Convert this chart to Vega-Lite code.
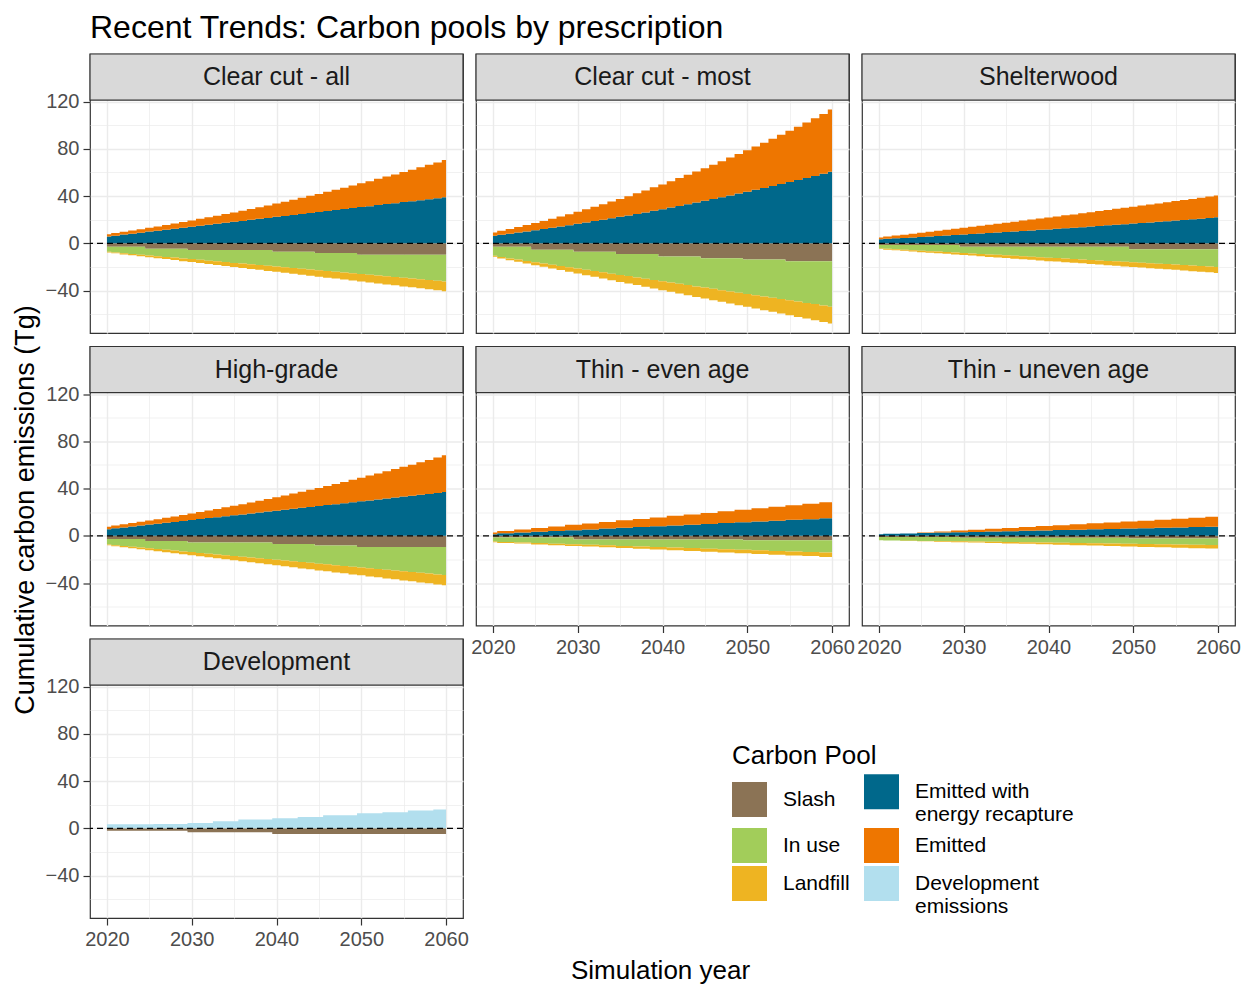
{
  "$schema": "https://vega.github.io/schema/vega-lite/v6.json",
  "padding": {"left": 10, "top": 11, "right": 4, "bottom": 2},
  "background": "white",
  "config": {
    "font": "Liberation Sans",
    "view": {"stroke": "#333333", "strokeWidth": 1.2},
    "axis": {
      "labelFont": "Liberation Sans",
      "labelFontSize": 20,
      "labelColor": "#4D4D4D",
      "tickColor": "#333333",
      "tickWidth": 1.2,
      "domain": false,
      "title": null,
      "gridColor": "#EBEBEB",
      "titleFont": "Liberation Sans"
    },
    "legend": {"titleFont": "Liberation Sans", "labelFont": "Liberation Sans"}
  },
  "title": {
    "text": "Recent Trends: Carbon pools by prescription",
    "anchor": "start",
    "frame": "group",
    "fontSize": 32,
    "fontWeight": "normal",
    "color": "black",
    "offset": 8
  },
  "data": {"name": "rows"},
  "datasets": {
    "panels": [
      {"k": "a", "p": "Clear cut - all"},
      {"k": "b", "p": "Clear cut - most"},
      {"k": "c", "p": "Shelterwood"},
      {"k": "d", "p": "High-grade"},
      {"k": "e", "p": "Thin - even age"},
      {"k": "f", "p": "Thin - uneven age"},
      {"k": "g", "p": "Development"}
    ],
    "pools": [
      {"c": "s", "pool": "Slash", "o": 1},
      {"c": "u", "pool": "In use", "o": 2},
      {"c": "l", "pool": "Landfill", "o": 3},
      {"c": "r", "pool": "Emitted with energy recapture", "o": 1},
      {"c": "e", "pool": "Emitted", "o": 2},
      {"c": "d", "pool": "Development emissions", "o": 3}
    ],
    "rows": [
      {"k":"a","t":2020,"s":-2.9,"u":-4.2,"l":-0.6,"r":5.7,"e":2.0},
      {"k":"a","t":2021,"s":-2.9,"u":-4.8,"l":-0.8,"r":6.5,"e":2.2},
      {"k":"a","t":2022,"s":-2.9,"u":-5.5,"l":-1.0,"r":7.4,"e":2.4},
      {"k":"a","t":2023,"s":-2.9,"u":-6.1,"l":-1.2,"r":8.2,"e":2.7},
      {"k":"a","t":2024,"s":-2.9,"u":-6.7,"l":-1.4,"r":9.0,"e":3.0},
      {"k":"a","t":2025,"s":-4.6,"u":-5.7,"l":-1.6,"r":9.9,"e":3.3},
      {"k":"a","t":2026,"s":-4.6,"u":-6.3,"l":-1.8,"r":10.7,"e":3.6},
      {"k":"a","t":2027,"s":-4.6,"u":-6.9,"l":-1.9,"r":11.5,"e":4.0},
      {"k":"a","t":2028,"s":-4.6,"u":-7.5,"l":-2.1,"r":12.4,"e":4.4},
      {"k":"a","t":2029,"s":-4.6,"u":-8.2,"l":-2.3,"r":13.2,"e":4.8},
      {"k":"a","t":2030,"s":-5.7,"u":-7.7,"l":-2.5,"r":14.0,"e":5.3},
      {"k":"a","t":2031,"s":-5.7,"u":-8.3,"l":-2.7,"r":14.9,"e":5.8},
      {"k":"a","t":2032,"s":-5.7,"u":-9.0,"l":-2.9,"r":15.7,"e":6.3},
      {"k":"a","t":2033,"s":-5.7,"u":-9.6,"l":-3.1,"r":16.5,"e":6.8},
      {"k":"a","t":2034,"s":-5.7,"u":-10.2,"l":-3.3,"r":17.4,"e":7.4},
      {"k":"a","t":2035,"s":-5.7,"u":-10.9,"l":-3.5,"r":18.2,"e":8.0},
      {"k":"a","t":2036,"s":-5.7,"u":-11.5,"l":-3.7,"r":19.0,"e":8.6},
      {"k":"a","t":2037,"s":-5.7,"u":-12.1,"l":-3.9,"r":19.9,"e":9.2},
      {"k":"a","t":2038,"s":-5.7,"u":-12.7,"l":-4.1,"r":20.7,"e":9.9},
      {"k":"a","t":2039,"s":-5.7,"u":-13.4,"l":-4.3,"r":21.5,"e":10.6},
      {"k":"a","t":2040,"s":-7.1,"u":-12.6,"l":-4.5,"r":22.4,"e":11.3},
      {"k":"a","t":2041,"s":-7.1,"u":-13.2,"l":-4.6,"r":23.2,"e":12.0},
      {"k":"a","t":2042,"s":-7.1,"u":-13.9,"l":-4.8,"r":24.0,"e":12.8},
      {"k":"a","t":2043,"s":-7.1,"u":-14.5,"l":-5.0,"r":24.9,"e":13.6},
      {"k":"a","t":2044,"s":-7.1,"u":-15.1,"l":-5.2,"r":25.7,"e":14.5},
      {"k":"a","t":2045,"s":-8.3,"u":-14.6,"l":-5.4,"r":26.5,"e":15.3},
      {"k":"a","t":2046,"s":-8.3,"u":-15.2,"l":-5.6,"r":27.4,"e":16.2},
      {"k":"a","t":2047,"s":-8.3,"u":-15.8,"l":-5.8,"r":28.2,"e":17.1},
      {"k":"a","t":2048,"s":-8.3,"u":-16.4,"l":-6.0,"r":29.0,"e":18.1},
      {"k":"a","t":2049,"s":-8.3,"u":-17.1,"l":-6.2,"r":29.9,"e":19.1},
      {"k":"a","t":2050,"s":-9.7,"u":-16.3,"l":-6.4,"r":30.7,"e":20.1},
      {"k":"a","t":2051,"s":-9.7,"u":-16.9,"l":-6.6,"r":31.5,"e":21.1},
      {"k":"a","t":2052,"s":-9.7,"u":-17.6,"l":-6.8,"r":32.4,"e":22.2},
      {"k":"a","t":2053,"s":-9.7,"u":-18.2,"l":-7.0,"r":33.2,"e":23.3},
      {"k":"a","t":2054,"s":-9.7,"u":-18.8,"l":-7.1,"r":34.0,"e":24.4},
      {"k":"a","t":2055,"s":-9.7,"u":-19.5,"l":-7.3,"r":34.9,"e":25.5},
      {"k":"a","t":2056,"s":-9.7,"u":-20.1,"l":-7.5,"r":35.7,"e":26.7},
      {"k":"a","t":2057,"s":-9.7,"u":-20.7,"l":-7.7,"r":36.5,"e":27.9},
      {"k":"a","t":2058,"s":-9.7,"u":-21.3,"l":-7.9,"r":37.4,"e":29.1},
      {"k":"a","t":2059,"s":-9.7,"u":-22.0,"l":-8.1,"r":38.2,"e":30.3},
      {"k":"a","t":2060,"s":-9.7,"u":-22.6,"l":-8.3,"r":39.0,"e":31.6},
      {"k":"b","t":2020,"s":-2.9,"u":-7.7,"l":-0.8,"r":6.3,"e":2.8},
      {"k":"b","t":2021,"s":-2.9,"u":-8.8,"l":-1.1,"r":7.2,"e":3.4},
      {"k":"b","t":2022,"s":-2.9,"u":-9.9,"l":-1.5,"r":8.1,"e":4.0},
      {"k":"b","t":2023,"s":-2.9,"u":-10.9,"l":-1.8,"r":9.1,"e":4.7},
      {"k":"b","t":2024,"s":-2.9,"u":-12.0,"l":-2.2,"r":10.1,"e":5.4},
      {"k":"b","t":2025,"s":-5.5,"u":-10.5,"l":-2.5,"r":11.1,"e":6.1},
      {"k":"b","t":2026,"s":-5.5,"u":-11.6,"l":-2.8,"r":12.1,"e":6.9},
      {"k":"b","t":2027,"s":-5.5,"u":-12.6,"l":-3.2,"r":13.2,"e":7.7},
      {"k":"b","t":2028,"s":-5.5,"u":-13.7,"l":-3.5,"r":14.2,"e":8.5},
      {"k":"b","t":2029,"s":-5.5,"u":-14.8,"l":-3.8,"r":15.3,"e":9.4},
      {"k":"b","t":2030,"s":-7.2,"u":-14.2,"l":-4.2,"r":16.5,"e":10.3},
      {"k":"b","t":2031,"s":-7.2,"u":-15.3,"l":-4.5,"r":17.6,"e":11.2},
      {"k":"b","t":2032,"s":-7.2,"u":-16.3,"l":-4.9,"r":18.8,"e":12.2},
      {"k":"b","t":2033,"s":-7.2,"u":-17.4,"l":-5.2,"r":19.9,"e":13.1},
      {"k":"b","t":2034,"s":-7.2,"u":-18.5,"l":-5.5,"r":21.2,"e":14.2},
      {"k":"b","t":2035,"s":-9.0,"u":-17.8,"l":-5.9,"r":22.4,"e":15.2},
      {"k":"b","t":2036,"s":-9.0,"u":-18.8,"l":-6.2,"r":23.6,"e":16.3},
      {"k":"b","t":2037,"s":-9.0,"u":-19.9,"l":-6.5,"r":24.9,"e":17.5},
      {"k":"b","t":2038,"s":-9.0,"u":-21.0,"l":-6.9,"r":26.2,"e":18.6},
      {"k":"b","t":2039,"s":-9.0,"u":-22.1,"l":-7.2,"r":27.6,"e":19.8},
      {"k":"b","t":2040,"s":-11.2,"u":-21.0,"l":-7.6,"r":28.9,"e":21.0},
      {"k":"b","t":2041,"s":-11.2,"u":-22.0,"l":-7.9,"r":30.3,"e":22.3},
      {"k":"b","t":2042,"s":-11.2,"u":-23.1,"l":-8.2,"r":31.7,"e":23.6},
      {"k":"b","t":2043,"s":-11.2,"u":-24.2,"l":-8.6,"r":33.1,"e":24.9},
      {"k":"b","t":2044,"s":-11.2,"u":-25.3,"l":-8.9,"r":34.5,"e":26.3},
      {"k":"b","t":2045,"s":-12.7,"u":-24.8,"l":-9.2,"r":36.0,"e":27.7},
      {"k":"b","t":2046,"s":-12.7,"u":-25.9,"l":-9.6,"r":37.5,"e":29.1},
      {"k":"b","t":2047,"s":-12.7,"u":-27.0,"l":-9.9,"r":39.0,"e":30.6},
      {"k":"b","t":2048,"s":-12.7,"u":-28.1,"l":-10.3,"r":40.5,"e":32.1},
      {"k":"b","t":2049,"s":-12.7,"u":-29.1,"l":-10.6,"r":42.1,"e":33.6},
      {"k":"b","t":2050,"s":-13.8,"u":-29.1,"l":-10.9,"r":43.7,"e":35.1},
      {"k":"b","t":2051,"s":-13.8,"u":-30.2,"l":-11.3,"r":45.3,"e":36.7},
      {"k":"b","t":2052,"s":-13.8,"u":-31.3,"l":-11.6,"r":46.9,"e":38.4},
      {"k":"b","t":2053,"s":-13.8,"u":-32.4,"l":-11.9,"r":48.5,"e":40.0},
      {"k":"b","t":2054,"s":-13.8,"u":-33.4,"l":-12.3,"r":50.2,"e":41.7},
      {"k":"b","t":2055,"s":-15.2,"u":-33.1,"l":-12.6,"r":51.9,"e":43.4},
      {"k":"b","t":2056,"s":-15.2,"u":-34.2,"l":-13.0,"r":53.6,"e":45.2},
      {"k":"b","t":2057,"s":-15.2,"u":-35.3,"l":-13.3,"r":55.3,"e":47.0},
      {"k":"b","t":2058,"s":-15.2,"u":-36.3,"l":-13.6,"r":57.1,"e":48.8},
      {"k":"b","t":2059,"s":-15.2,"u":-37.4,"l":-14.0,"r":58.9,"e":50.7},
      {"k":"b","t":2060,"s":-15.2,"u":-38.5,"l":-14.3,"r":60.7,"e":52.6},
      {"k":"c","t":2020,"s":-1.4,"u":-2.9,"l":-0.6,"r":3.4,"e":1.5},
      {"k":"c","t":2021,"s":-1.4,"u":-3.3,"l":-0.7,"r":3.8,"e":1.9},
      {"k":"c","t":2022,"s":-1.4,"u":-3.7,"l":-0.8,"r":4.2,"e":2.4},
      {"k":"c","t":2023,"s":-1.4,"u":-4.1,"l":-0.9,"r":4.5,"e":2.8},
      {"k":"c","t":2024,"s":-1.4,"u":-4.5,"l":-1.1,"r":4.9,"e":3.2},
      {"k":"c","t":2025,"s":-1.4,"u":-4.9,"l":-1.2,"r":5.3,"e":3.6},
      {"k":"c","t":2026,"s":-1.4,"u":-5.3,"l":-1.3,"r":5.7,"e":4.1},
      {"k":"c","t":2027,"s":-1.4,"u":-5.6,"l":-1.4,"r":6.2,"e":4.5},
      {"k":"c","t":2028,"s":-1.4,"u":-6.0,"l":-1.5,"r":6.6,"e":4.9},
      {"k":"c","t":2029,"s":-1.4,"u":-6.4,"l":-1.6,"r":7.0,"e":5.3},
      {"k":"c","t":2030,"s":-2.9,"u":-5.3,"l":-1.7,"r":7.4,"e":5.8},
      {"k":"c","t":2031,"s":-2.9,"u":-5.7,"l":-1.8,"r":7.8,"e":6.2},
      {"k":"c","t":2032,"s":-2.9,"u":-6.1,"l":-1.9,"r":8.3,"e":6.6},
      {"k":"c","t":2033,"s":-2.9,"u":-6.5,"l":-2.1,"r":8.7,"e":7.1},
      {"k":"c","t":2034,"s":-2.9,"u":-6.9,"l":-2.2,"r":9.1,"e":7.5},
      {"k":"c","t":2035,"s":-2.9,"u":-7.3,"l":-2.3,"r":9.6,"e":7.9},
      {"k":"c","t":2036,"s":-2.9,"u":-7.7,"l":-2.4,"r":10.0,"e":8.3},
      {"k":"c","t":2037,"s":-2.9,"u":-8.1,"l":-2.5,"r":10.5,"e":8.8},
      {"k":"c","t":2038,"s":-2.9,"u":-8.5,"l":-2.6,"r":10.9,"e":9.2},
      {"k":"c","t":2039,"s":-2.9,"u":-8.9,"l":-2.7,"r":11.4,"e":9.6},
      {"k":"c","t":2040,"s":-2.9,"u":-9.3,"l":-2.9,"r":11.8,"e":10.1},
      {"k":"c","t":2041,"s":-2.9,"u":-9.6,"l":-3.0,"r":12.3,"e":10.5},
      {"k":"c","t":2042,"s":-2.9,"u":-10.0,"l":-3.1,"r":12.8,"e":10.9},
      {"k":"c","t":2043,"s":-2.9,"u":-10.4,"l":-3.2,"r":13.2,"e":11.3},
      {"k":"c","t":2044,"s":-2.9,"u":-10.8,"l":-3.3,"r":13.7,"e":11.8},
      {"k":"c","t":2045,"s":-2.9,"u":-11.2,"l":-3.4,"r":14.2,"e":12.2},
      {"k":"c","t":2046,"s":-2.9,"u":-11.6,"l":-3.5,"r":14.7,"e":12.6},
      {"k":"c","t":2047,"s":-2.9,"u":-12.0,"l":-3.6,"r":15.2,"e":13.0},
      {"k":"c","t":2048,"s":-2.9,"u":-12.4,"l":-3.8,"r":15.7,"e":13.5},
      {"k":"c","t":2049,"s":-2.9,"u":-12.8,"l":-3.9,"r":16.2,"e":13.9},
      {"k":"c","t":2050,"s":-5.1,"u":-11.0,"l":-4.0,"r":16.7,"e":14.3},
      {"k":"c","t":2051,"s":-5.1,"u":-11.4,"l":-4.1,"r":17.2,"e":14.8},
      {"k":"c","t":2052,"s":-5.1,"u":-11.8,"l":-4.2,"r":17.7,"e":15.2},
      {"k":"c","t":2053,"s":-5.1,"u":-12.2,"l":-4.3,"r":18.2,"e":15.6},
      {"k":"c","t":2054,"s":-5.1,"u":-12.5,"l":-4.4,"r":18.7,"e":16.0},
      {"k":"c","t":2055,"s":-5.1,"u":-12.9,"l":-4.5,"r":19.3,"e":16.5},
      {"k":"c","t":2056,"s":-5.1,"u":-13.3,"l":-4.7,"r":19.8,"e":16.9},
      {"k":"c","t":2057,"s":-5.1,"u":-13.7,"l":-4.8,"r":20.3,"e":17.3},
      {"k":"c","t":2058,"s":-5.1,"u":-14.1,"l":-4.9,"r":20.8,"e":17.7},
      {"k":"c","t":2059,"s":-5.1,"u":-14.5,"l":-5.0,"r":21.4,"e":18.2},
      {"k":"c","t":2060,"s":-5.1,"u":-14.9,"l":-5.1,"r":22.0,"e":18.6},
      {"k":"d","t":2020,"s":-2.7,"u":-4.6,"l":-0.7,"r":5.5,"e":2.2},
      {"k":"d","t":2021,"s":-2.7,"u":-5.3,"l":-0.9,"r":6.3,"e":2.4},
      {"k":"d","t":2022,"s":-2.7,"u":-5.9,"l":-1.1,"r":7.1,"e":2.6},
      {"k":"d","t":2023,"s":-2.7,"u":-6.6,"l":-1.3,"r":7.9,"e":2.9},
      {"k":"d","t":2024,"s":-2.7,"u":-7.2,"l":-1.5,"r":8.7,"e":3.2},
      {"k":"d","t":2025,"s":-4.4,"u":-6.2,"l":-1.7,"r":9.5,"e":3.5},
      {"k":"d","t":2026,"s":-4.4,"u":-6.8,"l":-1.9,"r":10.2,"e":3.8},
      {"k":"d","t":2027,"s":-4.4,"u":-7.5,"l":-2.1,"r":11.0,"e":4.2},
      {"k":"d","t":2028,"s":-4.4,"u":-8.1,"l":-2.3,"r":11.8,"e":4.6},
      {"k":"d","t":2029,"s":-4.4,"u":-8.8,"l":-2.5,"r":12.6,"e":5.0},
      {"k":"d","t":2030,"s":-5.6,"u":-8.2,"l":-2.7,"r":13.4,"e":5.4},
      {"k":"d","t":2031,"s":-5.6,"u":-8.9,"l":-2.9,"r":14.2,"e":5.9},
      {"k":"d","t":2032,"s":-5.6,"u":-9.5,"l":-3.1,"r":15.0,"e":6.4},
      {"k":"d","t":2033,"s":-5.6,"u":-10.2,"l":-3.3,"r":15.8,"e":6.9},
      {"k":"d","t":2034,"s":-5.6,"u":-10.8,"l":-3.5,"r":16.6,"e":7.5},
      {"k":"d","t":2035,"s":-5.6,"u":-11.5,"l":-3.7,"r":17.4,"e":8.0},
      {"k":"d","t":2036,"s":-5.6,"u":-12.1,"l":-3.9,"r":18.1,"e":8.7},
      {"k":"d","t":2037,"s":-5.6,"u":-12.8,"l":-4.1,"r":18.9,"e":9.3},
      {"k":"d","t":2038,"s":-5.6,"u":-13.4,"l":-4.3,"r":19.7,"e":9.9},
      {"k":"d","t":2039,"s":-5.6,"u":-14.1,"l":-4.5,"r":20.5,"e":10.6},
      {"k":"d","t":2040,"s":-7.0,"u":-13.3,"l":-4.7,"r":21.3,"e":11.3},
      {"k":"d","t":2041,"s":-7.0,"u":-14.0,"l":-4.9,"r":22.1,"e":12.1},
      {"k":"d","t":2042,"s":-7.0,"u":-14.6,"l":-5.1,"r":22.9,"e":12.9},
      {"k":"d","t":2043,"s":-7.0,"u":-15.3,"l":-5.3,"r":23.7,"e":13.7},
      {"k":"d","t":2044,"s":-7.0,"u":-15.9,"l":-5.5,"r":24.5,"e":14.5},
      {"k":"d","t":2045,"s":-8.2,"u":-15.4,"l":-5.7,"r":25.3,"e":15.3},
      {"k":"d","t":2046,"s":-8.2,"u":-16.0,"l":-5.9,"r":26.0,"e":16.2},
      {"k":"d","t":2047,"s":-8.2,"u":-16.7,"l":-6.1,"r":26.8,"e":17.1},
      {"k":"d","t":2048,"s":-8.2,"u":-17.3,"l":-6.3,"r":27.6,"e":18.0},
      {"k":"d","t":2049,"s":-8.2,"u":-18.0,"l":-6.5,"r":28.4,"e":19.0},
      {"k":"d","t":2050,"s":-9.5,"u":-17.3,"l":-6.7,"r":29.2,"e":19.9},
      {"k":"d","t":2051,"s":-9.5,"u":-18.0,"l":-6.9,"r":30.0,"e":21.0},
      {"k":"d","t":2052,"s":-9.5,"u":-18.6,"l":-7.1,"r":30.8,"e":22.0},
      {"k":"d","t":2053,"s":-9.5,"u":-19.3,"l":-7.3,"r":31.6,"e":23.1},
      {"k":"d","t":2054,"s":-9.5,"u":-19.9,"l":-7.5,"r":32.4,"e":24.2},
      {"k":"d","t":2055,"s":-9.5,"u":-20.6,"l":-7.7,"r":33.2,"e":25.3},
      {"k":"d","t":2056,"s":-9.5,"u":-21.2,"l":-7.9,"r":33.9,"e":26.4},
      {"k":"d","t":2057,"s":-9.5,"u":-21.9,"l":-8.1,"r":34.7,"e":27.6},
      {"k":"d","t":2058,"s":-9.5,"u":-22.5,"l":-8.3,"r":35.5,"e":28.8},
      {"k":"d","t":2059,"s":-9.5,"u":-23.2,"l":-8.5,"r":36.3,"e":30.0},
      {"k":"d","t":2060,"s":-9.5,"u":-23.8,"l":-8.7,"r":37.1,"e":31.2},
      {"k":"e","t":2020,"s":-1.4,"u":-3.4,"l":-0.6,"r":1.4,"e":1.4},
      {"k":"e","t":2021,"s":-1.4,"u":-3.9,"l":-0.8,"r":2.1,"e":2.0},
      {"k":"e","t":2022,"s":-1.4,"u":-3.9,"l":-0.8,"r":2.1,"e":2.0},
      {"k":"e","t":2023,"s":-1.4,"u":-4.3,"l":-0.9,"r":2.7,"e":2.6},
      {"k":"e","t":2024,"s":-1.4,"u":-4.3,"l":-0.9,"r":2.7,"e":2.6},
      {"k":"e","t":2025,"s":-1.4,"u":-4.8,"l":-1.1,"r":3.4,"e":3.2},
      {"k":"e","t":2026,"s":-1.4,"u":-4.8,"l":-1.1,"r":3.4,"e":3.2},
      {"k":"e","t":2027,"s":-1.4,"u":-5.3,"l":-1.2,"r":4.1,"e":3.8},
      {"k":"e","t":2028,"s":-1.4,"u":-5.3,"l":-1.2,"r":4.1,"e":3.8},
      {"k":"e","t":2029,"s":-1.4,"u":-5.8,"l":-1.4,"r":4.8,"e":4.5},
      {"k":"e","t":2030,"s":-3.2,"u":-4.0,"l":-1.4,"r":4.8,"e":4.5},
      {"k":"e","t":2031,"s":-3.2,"u":-4.4,"l":-1.5,"r":5.4,"e":5.1},
      {"k":"e","t":2032,"s":-3.2,"u":-4.4,"l":-1.5,"r":5.4,"e":5.1},
      {"k":"e","t":2033,"s":-3.2,"u":-4.9,"l":-1.7,"r":6.1,"e":5.7},
      {"k":"e","t":2034,"s":-3.2,"u":-4.9,"l":-1.7,"r":6.1,"e":5.7},
      {"k":"e","t":2035,"s":-3.2,"u":-5.4,"l":-1.8,"r":6.8,"e":6.3},
      {"k":"e","t":2036,"s":-3.2,"u":-5.4,"l":-1.8,"r":6.8,"e":6.3},
      {"k":"e","t":2037,"s":-3.2,"u":-5.8,"l":-2.0,"r":7.4,"e":6.9},
      {"k":"e","t":2038,"s":-3.2,"u":-5.8,"l":-2.0,"r":7.4,"e":6.9},
      {"k":"e","t":2039,"s":-3.2,"u":-6.3,"l":-2.2,"r":8.1,"e":7.5},
      {"k":"e","t":2040,"s":-3.2,"u":-6.3,"l":-2.2,"r":8.1,"e":7.5},
      {"k":"e","t":2041,"s":-3.2,"u":-6.8,"l":-2.3,"r":8.8,"e":8.1},
      {"k":"e","t":2042,"s":-3.2,"u":-6.8,"l":-2.3,"r":8.8,"e":8.1},
      {"k":"e","t":2043,"s":-3.2,"u":-7.2,"l":-2.5,"r":9.4,"e":8.7},
      {"k":"e","t":2044,"s":-3.2,"u":-7.2,"l":-2.5,"r":9.4,"e":8.7},
      {"k":"e","t":2045,"s":-3.2,"u":-7.7,"l":-2.6,"r":10.1,"e":9.3},
      {"k":"e","t":2046,"s":-3.2,"u":-7.7,"l":-2.6,"r":10.1,"e":9.3},
      {"k":"e","t":2047,"s":-3.2,"u":-8.2,"l":-2.8,"r":10.8,"e":9.9},
      {"k":"e","t":2048,"s":-3.2,"u":-8.2,"l":-2.8,"r":10.8,"e":9.9},
      {"k":"e","t":2049,"s":-3.2,"u":-8.7,"l":-2.9,"r":11.5,"e":10.6},
      {"k":"e","t":2050,"s":-3.7,"u":-8.2,"l":-2.9,"r":11.5,"e":10.6},
      {"k":"e","t":2051,"s":-3.7,"u":-8.6,"l":-3.1,"r":12.1,"e":11.2},
      {"k":"e","t":2052,"s":-3.7,"u":-8.6,"l":-3.1,"r":12.1,"e":11.2},
      {"k":"e","t":2053,"s":-3.7,"u":-9.1,"l":-3.2,"r":12.8,"e":11.8},
      {"k":"e","t":2054,"s":-3.7,"u":-9.1,"l":-3.2,"r":12.8,"e":11.8},
      {"k":"e","t":2055,"s":-3.7,"u":-9.6,"l":-3.4,"r":13.5,"e":12.4},
      {"k":"e","t":2056,"s":-3.7,"u":-9.6,"l":-3.4,"r":13.5,"e":12.4},
      {"k":"e","t":2057,"s":-3.7,"u":-10.0,"l":-3.5,"r":14.1,"e":13.0},
      {"k":"e","t":2058,"s":-3.7,"u":-10.0,"l":-3.5,"r":14.1,"e":13.0},
      {"k":"e","t":2059,"s":-3.7,"u":-10.5,"l":-3.7,"r":14.8,"e":13.6},
      {"k":"e","t":2060,"s":-3.7,"u":-10.5,"l":-3.7,"r":14.8,"e":13.6},
      {"k":"f","t":2020,"s":-1.0,"u":-2.7,"l":-0.1,"r":1.4,"e":0},
      {"k":"f","t":2021,"s":-1.0,"u":-2.9,"l":-0.1,"r":1.7,"e":0},
      {"k":"f","t":2022,"s":-1.0,"u":-2.9,"l":-0.1,"r":1.7,"e":0},
      {"k":"f","t":2023,"s":-1.0,"u":-3.1,"l":-0.2,"r":2.0,"e":0},
      {"k":"f","t":2024,"s":-1.0,"u":-3.1,"l":-0.2,"r":2.0,"e":0},
      {"k":"f","t":2025,"s":-1.0,"u":-3.3,"l":-0.4,"r":2.3,"e":0.5},
      {"k":"f","t":2026,"s":-1.0,"u":-3.3,"l":-0.4,"r":2.3,"e":0.5},
      {"k":"f","t":2027,"s":-1.0,"u":-3.5,"l":-0.5,"r":2.7,"e":0.9},
      {"k":"f","t":2028,"s":-1.0,"u":-3.5,"l":-0.5,"r":2.7,"e":0.9},
      {"k":"f","t":2029,"s":-1.0,"u":-3.7,"l":-0.7,"r":3.0,"e":1.4},
      {"k":"f","t":2030,"s":-1.7,"u":-3.0,"l":-0.7,"r":3.0,"e":1.4},
      {"k":"f","t":2031,"s":-1.7,"u":-3.2,"l":-0.8,"r":3.3,"e":1.8},
      {"k":"f","t":2032,"s":-1.7,"u":-3.2,"l":-0.8,"r":3.3,"e":1.8},
      {"k":"f","t":2033,"s":-1.7,"u":-3.4,"l":-1.0,"r":3.6,"e":2.3},
      {"k":"f","t":2034,"s":-1.7,"u":-3.4,"l":-1.0,"r":3.6,"e":2.3},
      {"k":"f","t":2035,"s":-1.7,"u":-3.6,"l":-1.2,"r":3.9,"e":2.8},
      {"k":"f","t":2036,"s":-1.7,"u":-3.6,"l":-1.2,"r":3.9,"e":2.8},
      {"k":"f","t":2037,"s":-1.7,"u":-3.8,"l":-1.3,"r":4.2,"e":3.2},
      {"k":"f","t":2038,"s":-1.7,"u":-3.8,"l":-1.3,"r":4.2,"e":3.2},
      {"k":"f","t":2039,"s":-1.7,"u":-4.0,"l":-1.5,"r":4.6,"e":3.7},
      {"k":"f","t":2040,"s":-1.7,"u":-4.0,"l":-1.5,"r":4.6,"e":3.7},
      {"k":"f","t":2041,"s":-1.7,"u":-4.2,"l":-1.7,"r":4.9,"e":4.1},
      {"k":"f","t":2042,"s":-1.7,"u":-4.2,"l":-1.7,"r":4.9,"e":4.1},
      {"k":"f","t":2043,"s":-1.7,"u":-4.4,"l":-1.8,"r":5.2,"e":4.6},
      {"k":"f","t":2044,"s":-1.7,"u":-4.4,"l":-1.8,"r":5.2,"e":4.6},
      {"k":"f","t":2045,"s":-1.7,"u":-4.6,"l":-2.0,"r":5.5,"e":5.1},
      {"k":"f","t":2046,"s":-1.7,"u":-4.6,"l":-2.0,"r":5.5,"e":5.1},
      {"k":"f","t":2047,"s":-1.7,"u":-4.8,"l":-2.2,"r":5.8,"e":5.5},
      {"k":"f","t":2048,"s":-1.7,"u":-4.8,"l":-2.2,"r":5.8,"e":5.5},
      {"k":"f","t":2049,"s":-1.7,"u":-5.0,"l":-2.3,"r":6.1,"e":6.0},
      {"k":"f","t":2050,"s":-2.3,"u":-4.4,"l":-2.3,"r":6.1,"e":6.0},
      {"k":"f","t":2051,"s":-2.3,"u":-4.6,"l":-2.5,"r":6.4,"e":6.4},
      {"k":"f","t":2052,"s":-2.3,"u":-4.6,"l":-2.5,"r":6.4,"e":6.4},
      {"k":"f","t":2053,"s":-2.3,"u":-4.8,"l":-2.6,"r":6.8,"e":6.9},
      {"k":"f","t":2054,"s":-2.3,"u":-4.8,"l":-2.6,"r":6.8,"e":6.9},
      {"k":"f","t":2055,"s":-2.3,"u":-5.0,"l":-2.8,"r":7.1,"e":7.4},
      {"k":"f","t":2056,"s":-2.3,"u":-5.0,"l":-2.8,"r":7.1,"e":7.4},
      {"k":"f","t":2057,"s":-2.3,"u":-5.2,"l":-3.0,"r":7.4,"e":7.8},
      {"k":"f","t":2058,"s":-2.3,"u":-5.2,"l":-3.0,"r":7.4,"e":7.8},
      {"k":"f","t":2059,"s":-2.3,"u":-5.4,"l":-3.1,"r":7.7,"e":8.5},
      {"k":"f","t":2060,"s":-2.3,"u":-5.4,"l":-3.1,"r":7.7,"e":8.5},
      {"k":"g","t":2020,"s":-2.0,"d":3.4},
      {"k":"g","t":2021,"s":-2.0,"d":3.4},
      {"k":"g","t":2022,"s":-2.0,"d":3.4},
      {"k":"g","t":2023,"s":-2.0,"d":3.5},
      {"k":"g","t":2024,"s":-2.0,"d":3.5},
      {"k":"g","t":2025,"s":-2.0,"d":3.5},
      {"k":"g","t":2026,"s":-2.0,"d":3.6},
      {"k":"g","t":2027,"s":-2.0,"d":3.6},
      {"k":"g","t":2028,"s":-2.0,"d":3.6},
      {"k":"g","t":2029,"s":-2.0,"d":3.7},
      {"k":"g","t":2030,"s":-3.4,"d":4.5},
      {"k":"g","t":2031,"s":-3.4,"d":4.5},
      {"k":"g","t":2032,"s":-3.4,"d":4.5},
      {"k":"g","t":2033,"s":-3.4,"d":6.0},
      {"k":"g","t":2034,"s":-3.4,"d":6.0},
      {"k":"g","t":2035,"s":-3.4,"d":6.0},
      {"k":"g","t":2036,"s":-3.4,"d":7.4},
      {"k":"g","t":2037,"s":-3.4,"d":7.4},
      {"k":"g","t":2038,"s":-3.4,"d":7.4},
      {"k":"g","t":2039,"s":-3.4,"d":7.4},
      {"k":"g","t":2040,"s":-4.8,"d":8.5},
      {"k":"g","t":2041,"s":-4.8,"d":8.5},
      {"k":"g","t":2042,"s":-4.8,"d":8.5},
      {"k":"g","t":2043,"s":-4.8,"d":9.6},
      {"k":"g","t":2044,"s":-4.8,"d":9.6},
      {"k":"g","t":2045,"s":-4.8,"d":9.6},
      {"k":"g","t":2046,"s":-4.8,"d":11.0},
      {"k":"g","t":2047,"s":-4.8,"d":11.0},
      {"k":"g","t":2048,"s":-4.8,"d":11.0},
      {"k":"g","t":2049,"s":-4.8,"d":11.0},
      {"k":"g","t":2050,"s":-4.8,"d":12.7},
      {"k":"g","t":2051,"s":-4.8,"d":12.7},
      {"k":"g","t":2052,"s":-4.8,"d":12.7},
      {"k":"g","t":2053,"s":-4.8,"d":13.6},
      {"k":"g","t":2054,"s":-4.8,"d":13.6},
      {"k":"g","t":2055,"s":-4.8,"d":13.6},
      {"k":"g","t":2056,"s":-4.8,"d":15.0},
      {"k":"g","t":2057,"s":-4.8,"d":15.0},
      {"k":"g","t":2058,"s":-4.8,"d":15.0},
      {"k":"g","t":2059,"s":-4.8,"d":15.9},
      {"k":"g","t":2060,"s":-4.8,"d":15.9}
    ]
  },
  "bounds": "flush",
  "columns": 3,
  "spacing": {"row": 13.5, "column": 13},
  "concat": [
    {
      "width": 373, "height": 279,
      "transform": [
        {"filter": "datum.k === 'a'"},
        {"lookup": "k", "from": {"data": {"name": "panels"}, "key": "k", "fields": ["p"]}},
        {"fold": ["s", "u", "l", "r", "e", "d"], "as": ["c", "v"]},
        {"filter": "isValid(datum.v)"},
        {"lookup": "c", "from": {"data": {"name": "pools"}, "key": "c", "fields": ["pool", "o"]}}
      ],
      "resolve": {"axis": {"y": "independent"}},
      "layer": [
        {
          "mark": {"type": "area", "interpolate": "step"},
          "encoding": {
            "x": {"field": "t", "type": "quantitative", "scale": {"domain": [2018, 2062], "nice": false, "zero": false},
              "axis": {"values": [2020, 2025, 2030, 2035, 2040, 2045, 2050, 2055, 2060], "labels": false, "ticks": false,
                "gridWidth": {"condition": {"test": "datum.value % 10 === 0", "value": 1.4}, "value": 0.7}}},
            "y": {"field": "v", "type": "quantitative", "stack": "zero", "scale": {"domain": [-76, 160.4], "nice": false, "zero": false},
              "axis": {"values": [-40, 0, 40, 80, 120], "format": "d", "labelPadding": 4, "tickSize": 7, "gridWidth": 1.4}},
            "color": {"field": "pool", "type": "nominal",
              "scale": {"domain": ["Slash", "In use", "Landfill", "Emitted with energy recapture", "Emitted", "Development emissions"],
                "range": ["#8B7355", "#A2CD5A", "#EEB422", "#00688B", "#EE7600", "#B2DFEE"]},
              "legend": {
                "title": "Carbon Pool", "orient": "none", "legendX": 642, "legendY": 689, "padding": 0,
                "columns": 2, "symbolType": "square", "symbolSize": 1225, "symbolStrokeWidth": 0, "symbolOpacity": 1,
                "titleFontSize": 26, "titleFontWeight": "normal", "titleColor": "black", "titlePadding": 5,
                "labelFontSize": 21, "labelColor": "black", "labelOffset": 16, "labelLimit": 400,
                "columnPadding": 14, "rowPadding": 3,
                "labelExpr": "datum.label === 'Emitted with energy recapture' ? ['Emitted with', 'energy recapture'] : datum.label === 'Development emissions' ? ['Development', 'emissions'] : datum.label"
              }},
            "order": {"field": "o", "type": "quantitative"}
          }
        },
        {"transform": [{"aggregate": [{"op": "count", "as": "n"}], "groupby": ["p"]}],
         "mark": {"type": "rule", "strokeDash": [6, 4], "color": "black", "strokeWidth": 1.3},
         "encoding": {"y": {"datum": 0, "type": "quantitative", "scale": {"domain": [-76, 160.4], "nice": false, "zero": false},
           "axis": {"values": [-60, -20, 20, 60, 100], "labels": false, "ticks": false, "grid": true, "gridWidth": 0.7, "title": null}}}},
        {"transform": [{"aggregate": [{"op": "count", "as": "n"}], "groupby": ["p"]}],
         "mark": {"type": "rect", "fill": "#D9D9D9", "stroke": "#333333", "strokeWidth": 1.2},
         "encoding": {"x": {"datum": 2018, "type": "quantitative"}, "x2": {"datum": 2062}, "y": {"datum": 121.4, "type": "quantitative", "axis": null}, "y2": {"datum": 160.4}}},
        {"transform": [{"aggregate": [{"op": "count", "as": "n"}], "groupby": ["p"]}],
         "mark": {"type": "text", "fontSize": 25, "color": "#1A1A1A", "baseline": "middle", "align": "center"},
         "encoding": {"x": {"datum": 2040, "type": "quantitative"}, "y": {"datum": 140.9, "type": "quantitative", "axis": null}, "text": {"field": "p", "type": "nominal"}}}
      ]
    },
    {
      "width": 373, "height": 279,
      "transform": [
        {"filter": "datum.k === 'b'"},
        {"lookup": "k", "from": {"data": {"name": "panels"}, "key": "k", "fields": ["p"]}},
        {"fold": ["s", "u", "l", "r", "e", "d"], "as": ["c", "v"]},
        {"filter": "isValid(datum.v)"},
        {"lookup": "c", "from": {"data": {"name": "pools"}, "key": "c", "fields": ["pool", "o"]}}
      ],
      "resolve": {"axis": {"y": "independent"}},
      "layer": [
        {
          "mark": {"type": "area", "interpolate": "step"},
          "encoding": {
            "x": {"field": "t", "type": "quantitative", "scale": {"domain": [2018, 2062], "nice": false, "zero": false},
              "axis": {"values": [2020, 2025, 2030, 2035, 2040, 2045, 2050, 2055, 2060], "labels": false, "ticks": false,
                "gridWidth": {"condition": {"test": "datum.value % 10 === 0", "value": 1.4}, "value": 0.7}}},
            "y": {"field": "v", "type": "quantitative", "stack": "zero", "scale": {"domain": [-76, 160.4], "nice": false, "zero": false},
              "axis": {"values": [-40, 0, 40, 80, 120], "labels": false, "ticks": false, "gridWidth": 1.4}},
            "color": {"field": "pool", "type": "nominal",
              "scale": {"domain": ["Slash", "In use", "Landfill", "Emitted with energy recapture", "Emitted", "Development emissions"],
                "range": ["#8B7355", "#A2CD5A", "#EEB422", "#00688B", "#EE7600", "#B2DFEE"]},
              "legend": null},
            "order": {"field": "o", "type": "quantitative"}
          }
        },
        {"transform": [{"aggregate": [{"op": "count", "as": "n"}], "groupby": ["p"]}],
         "mark": {"type": "rule", "strokeDash": [6, 4], "color": "black", "strokeWidth": 1.3},
         "encoding": {"y": {"datum": 0, "type": "quantitative", "scale": {"domain": [-76, 160.4], "nice": false, "zero": false},
           "axis": {"values": [-60, -20, 20, 60, 100], "labels": false, "ticks": false, "grid": true, "gridWidth": 0.7, "title": null}}}},
        {"transform": [{"aggregate": [{"op": "count", "as": "n"}], "groupby": ["p"]}],
         "mark": {"type": "rect", "fill": "#D9D9D9", "stroke": "#333333", "strokeWidth": 1.2},
         "encoding": {"x": {"datum": 2018, "type": "quantitative"}, "x2": {"datum": 2062}, "y": {"datum": 121.4, "type": "quantitative", "axis": null}, "y2": {"datum": 160.4}}},
        {"transform": [{"aggregate": [{"op": "count", "as": "n"}], "groupby": ["p"]}],
         "mark": {"type": "text", "fontSize": 25, "color": "#1A1A1A", "baseline": "middle", "align": "center"},
         "encoding": {"x": {"datum": 2040, "type": "quantitative"}, "y": {"datum": 140.9, "type": "quantitative", "axis": null}, "text": {"field": "p", "type": "nominal"}}}
      ]
    },
    {
      "width": 373, "height": 279,
      "transform": [
        {"filter": "datum.k === 'c'"},
        {"lookup": "k", "from": {"data": {"name": "panels"}, "key": "k", "fields": ["p"]}},
        {"fold": ["s", "u", "l", "r", "e", "d"], "as": ["c", "v"]},
        {"filter": "isValid(datum.v)"},
        {"lookup": "c", "from": {"data": {"name": "pools"}, "key": "c", "fields": ["pool", "o"]}}
      ],
      "resolve": {"axis": {"y": "independent"}},
      "layer": [
        {
          "mark": {"type": "area", "interpolate": "step"},
          "encoding": {
            "x": {"field": "t", "type": "quantitative", "scale": {"domain": [2018, 2062], "nice": false, "zero": false},
              "axis": {"values": [2020, 2025, 2030, 2035, 2040, 2045, 2050, 2055, 2060], "labels": false, "ticks": false,
                "gridWidth": {"condition": {"test": "datum.value % 10 === 0", "value": 1.4}, "value": 0.7}}},
            "y": {"field": "v", "type": "quantitative", "stack": "zero", "scale": {"domain": [-76, 160.4], "nice": false, "zero": false},
              "axis": {"values": [-40, 0, 40, 80, 120], "labels": false, "ticks": false, "gridWidth": 1.4}},
            "color": {"field": "pool", "type": "nominal",
              "scale": {"domain": ["Slash", "In use", "Landfill", "Emitted with energy recapture", "Emitted", "Development emissions"],
                "range": ["#8B7355", "#A2CD5A", "#EEB422", "#00688B", "#EE7600", "#B2DFEE"]},
              "legend": null},
            "order": {"field": "o", "type": "quantitative"}
          }
        },
        {"transform": [{"aggregate": [{"op": "count", "as": "n"}], "groupby": ["p"]}],
         "mark": {"type": "rule", "strokeDash": [6, 4], "color": "black", "strokeWidth": 1.3},
         "encoding": {"y": {"datum": 0, "type": "quantitative", "scale": {"domain": [-76, 160.4], "nice": false, "zero": false},
           "axis": {"values": [-60, -20, 20, 60, 100], "labels": false, "ticks": false, "grid": true, "gridWidth": 0.7, "title": null}}}},
        {"transform": [{"aggregate": [{"op": "count", "as": "n"}], "groupby": ["p"]}],
         "mark": {"type": "rect", "fill": "#D9D9D9", "stroke": "#333333", "strokeWidth": 1.2},
         "encoding": {"x": {"datum": 2018, "type": "quantitative"}, "x2": {"datum": 2062}, "y": {"datum": 121.4, "type": "quantitative", "axis": null}, "y2": {"datum": 160.4}}},
        {"transform": [{"aggregate": [{"op": "count", "as": "n"}], "groupby": ["p"]}],
         "mark": {"type": "text", "fontSize": 25, "color": "#1A1A1A", "baseline": "middle", "align": "center"},
         "encoding": {"x": {"datum": 2040, "type": "quantitative"}, "y": {"datum": 140.9, "type": "quantitative", "axis": null}, "text": {"field": "p", "type": "nominal"}}}
      ]
    },
    {
      "width": 373, "height": 279,
      "transform": [
        {"filter": "datum.k === 'd'"},
        {"lookup": "k", "from": {"data": {"name": "panels"}, "key": "k", "fields": ["p"]}},
        {"fold": ["s", "u", "l", "r", "e", "d"], "as": ["c", "v"]},
        {"filter": "isValid(datum.v)"},
        {"lookup": "c", "from": {"data": {"name": "pools"}, "key": "c", "fields": ["pool", "o"]}}
      ],
      "resolve": {"axis": {"y": "independent"}},
      "layer": [
        {
          "mark": {"type": "area", "interpolate": "step"},
          "encoding": {
            "x": {"field": "t", "type": "quantitative", "scale": {"domain": [2018, 2062], "nice": false, "zero": false},
              "axis": {"values": [2020, 2025, 2030, 2035, 2040, 2045, 2050, 2055, 2060], "labels": false, "ticks": false,
                "gridWidth": {"condition": {"test": "datum.value % 10 === 0", "value": 1.4}, "value": 0.7}}},
            "y": {"field": "v", "type": "quantitative", "stack": "zero", "scale": {"domain": [-76, 160.4], "nice": false, "zero": false},
              "axis": {"values": [-40, 0, 40, 80, 120], "format": "d", "labelPadding": 4, "tickSize": 7, "gridWidth": 1.4,
                "title": "Cumulative carbon emissions (Tg)", "titleFontSize": 27, "titleFontWeight": "normal", "titleColor": "black",
                "titleX": -65, "titleY": 163, "titleAngle": 270, "titleAlign": "center", "titleBaseline": "middle"}},
            "color": {"field": "pool", "type": "nominal",
              "scale": {"domain": ["Slash", "In use", "Landfill", "Emitted with energy recapture", "Emitted", "Development emissions"],
                "range": ["#8B7355", "#A2CD5A", "#EEB422", "#00688B", "#EE7600", "#B2DFEE"]},
              "legend": null},
            "order": {"field": "o", "type": "quantitative"}
          }
        },
        {"transform": [{"aggregate": [{"op": "count", "as": "n"}], "groupby": ["p"]}],
         "mark": {"type": "rule", "strokeDash": [6, 4], "color": "black", "strokeWidth": 1.3},
         "encoding": {"y": {"datum": 0, "type": "quantitative", "scale": {"domain": [-76, 160.4], "nice": false, "zero": false},
           "axis": {"values": [-60, -20, 20, 60, 100], "labels": false, "ticks": false, "grid": true, "gridWidth": 0.7, "title": null}}}},
        {"transform": [{"aggregate": [{"op": "count", "as": "n"}], "groupby": ["p"]}],
         "mark": {"type": "rect", "fill": "#D9D9D9", "stroke": "#333333", "strokeWidth": 1.2},
         "encoding": {"x": {"datum": 2018, "type": "quantitative"}, "x2": {"datum": 2062}, "y": {"datum": 121.4, "type": "quantitative", "axis": null}, "y2": {"datum": 160.4}}},
        {"transform": [{"aggregate": [{"op": "count", "as": "n"}], "groupby": ["p"]}],
         "mark": {"type": "text", "fontSize": 25, "color": "#1A1A1A", "baseline": "middle", "align": "center"},
         "encoding": {"x": {"datum": 2040, "type": "quantitative"}, "y": {"datum": 140.9, "type": "quantitative", "axis": null}, "text": {"field": "p", "type": "nominal"}}}
      ]
    },
    {
      "width": 373, "height": 279,
      "transform": [
        {"filter": "datum.k === 'e'"},
        {"lookup": "k", "from": {"data": {"name": "panels"}, "key": "k", "fields": ["p"]}},
        {"fold": ["s", "u", "l", "r", "e", "d"], "as": ["c", "v"]},
        {"filter": "isValid(datum.v)"},
        {"lookup": "c", "from": {"data": {"name": "pools"}, "key": "c", "fields": ["pool", "o"]}}
      ],
      "resolve": {"axis": {"y": "independent"}},
      "layer": [
        {
          "mark": {"type": "area", "interpolate": "step"},
          "encoding": {
            "x": {"field": "t", "type": "quantitative", "scale": {"domain": [2018, 2062], "nice": false, "zero": false},
              "axis": {"values": [2020, 2025, 2030, 2035, 2040, 2045, 2050, 2055, 2060],
                "labelExpr": "datum.value % 10 === 0 ? toString(datum.value) : ''", "labelOverlap": false, "labelFlush": false, "labelPadding": 4.5, "tickSize": 7,
                "gridWidth": {"condition": {"test": "datum.value % 10 === 0", "value": 1.4}, "value": 0.7},
                "tickOpacity": {"condition": {"test": "datum.value % 10 === 0", "value": 1}, "value": 0}}},
            "y": {"field": "v", "type": "quantitative", "stack": "zero", "scale": {"domain": [-76, 160.4], "nice": false, "zero": false},
              "axis": {"values": [-40, 0, 40, 80, 120], "labels": false, "ticks": false, "gridWidth": 1.4}},
            "color": {"field": "pool", "type": "nominal",
              "scale": {"domain": ["Slash", "In use", "Landfill", "Emitted with energy recapture", "Emitted", "Development emissions"],
                "range": ["#8B7355", "#A2CD5A", "#EEB422", "#00688B", "#EE7600", "#B2DFEE"]},
              "legend": null},
            "order": {"field": "o", "type": "quantitative"}
          }
        },
        {"transform": [{"aggregate": [{"op": "count", "as": "n"}], "groupby": ["p"]}],
         "mark": {"type": "rule", "strokeDash": [6, 4], "color": "black", "strokeWidth": 1.3},
         "encoding": {"y": {"datum": 0, "type": "quantitative", "scale": {"domain": [-76, 160.4], "nice": false, "zero": false},
           "axis": {"values": [-60, -20, 20, 60, 100], "labels": false, "ticks": false, "grid": true, "gridWidth": 0.7, "title": null}}}},
        {"transform": [{"aggregate": [{"op": "count", "as": "n"}], "groupby": ["p"]}],
         "mark": {"type": "rect", "fill": "#D9D9D9", "stroke": "#333333", "strokeWidth": 1.2},
         "encoding": {"x": {"datum": 2018, "type": "quantitative"}, "x2": {"datum": 2062}, "y": {"datum": 121.4, "type": "quantitative", "axis": null}, "y2": {"datum": 160.4}}},
        {"transform": [{"aggregate": [{"op": "count", "as": "n"}], "groupby": ["p"]}],
         "mark": {"type": "text", "fontSize": 25, "color": "#1A1A1A", "baseline": "middle", "align": "center"},
         "encoding": {"x": {"datum": 2040, "type": "quantitative"}, "y": {"datum": 140.9, "type": "quantitative", "axis": null}, "text": {"field": "p", "type": "nominal"}}}
      ]
    },
    {
      "width": 373, "height": 279,
      "transform": [
        {"filter": "datum.k === 'f'"},
        {"lookup": "k", "from": {"data": {"name": "panels"}, "key": "k", "fields": ["p"]}},
        {"fold": ["s", "u", "l", "r", "e", "d"], "as": ["c", "v"]},
        {"filter": "isValid(datum.v)"},
        {"lookup": "c", "from": {"data": {"name": "pools"}, "key": "c", "fields": ["pool", "o"]}}
      ],
      "resolve": {"axis": {"y": "independent"}},
      "layer": [
        {
          "mark": {"type": "area", "interpolate": "step"},
          "encoding": {
            "x": {"field": "t", "type": "quantitative", "scale": {"domain": [2018, 2062], "nice": false, "zero": false},
              "axis": {"values": [2020, 2025, 2030, 2035, 2040, 2045, 2050, 2055, 2060],
                "labelExpr": "datum.value % 10 === 0 ? toString(datum.value) : ''", "labelOverlap": false, "labelFlush": false, "labelPadding": 4.5, "tickSize": 7,
                "gridWidth": {"condition": {"test": "datum.value % 10 === 0", "value": 1.4}, "value": 0.7},
                "tickOpacity": {"condition": {"test": "datum.value % 10 === 0", "value": 1}, "value": 0}}},
            "y": {"field": "v", "type": "quantitative", "stack": "zero", "scale": {"domain": [-76, 160.4], "nice": false, "zero": false},
              "axis": {"values": [-40, 0, 40, 80, 120], "labels": false, "ticks": false, "gridWidth": 1.4}},
            "color": {"field": "pool", "type": "nominal",
              "scale": {"domain": ["Slash", "In use", "Landfill", "Emitted with energy recapture", "Emitted", "Development emissions"],
                "range": ["#8B7355", "#A2CD5A", "#EEB422", "#00688B", "#EE7600", "#B2DFEE"]},
              "legend": null},
            "order": {"field": "o", "type": "quantitative"}
          }
        },
        {"transform": [{"aggregate": [{"op": "count", "as": "n"}], "groupby": ["p"]}],
         "mark": {"type": "rule", "strokeDash": [6, 4], "color": "black", "strokeWidth": 1.3},
         "encoding": {"y": {"datum": 0, "type": "quantitative", "scale": {"domain": [-76, 160.4], "nice": false, "zero": false},
           "axis": {"values": [-60, -20, 20, 60, 100], "labels": false, "ticks": false, "grid": true, "gridWidth": 0.7, "title": null}}}},
        {"transform": [{"aggregate": [{"op": "count", "as": "n"}], "groupby": ["p"]}],
         "mark": {"type": "rect", "fill": "#D9D9D9", "stroke": "#333333", "strokeWidth": 1.2},
         "encoding": {"x": {"datum": 2018, "type": "quantitative"}, "x2": {"datum": 2062}, "y": {"datum": 121.4, "type": "quantitative", "axis": null}, "y2": {"datum": 160.4}}},
        {"transform": [{"aggregate": [{"op": "count", "as": "n"}], "groupby": ["p"]}],
         "mark": {"type": "text", "fontSize": 25, "color": "#1A1A1A", "baseline": "middle", "align": "center"},
         "encoding": {"x": {"datum": 2040, "type": "quantitative"}, "y": {"datum": 140.9, "type": "quantitative", "axis": null}, "text": {"field": "p", "type": "nominal"}}}
      ]
    },
    {
      "width": 373, "height": 279,
      "transform": [
        {"filter": "datum.k === 'g'"},
        {"lookup": "k", "from": {"data": {"name": "panels"}, "key": "k", "fields": ["p"]}},
        {"fold": ["s", "u", "l", "r", "e", "d"], "as": ["c", "v"]},
        {"filter": "isValid(datum.v)"},
        {"lookup": "c", "from": {"data": {"name": "pools"}, "key": "c", "fields": ["pool", "o"]}}
      ],
      "resolve": {"axis": {"y": "independent"}},
      "layer": [
        {
          "mark": {"type": "area", "interpolate": "step"},
          "encoding": {
            "x": {"field": "t", "type": "quantitative", "scale": {"domain": [2018, 2062], "nice": false, "zero": false},
              "axis": {"values": [2020, 2025, 2030, 2035, 2040, 2045, 2050, 2055, 2060],
                "labelExpr": "datum.value % 10 === 0 ? toString(datum.value) : ''", "labelOverlap": false, "labelFlush": false, "labelPadding": 4.5, "tickSize": 7,
                "gridWidth": {"condition": {"test": "datum.value % 10 === 0", "value": 1.4}, "value": 0.7},
                "tickOpacity": {"condition": {"test": "datum.value % 10 === 0", "value": 1}, "value": 0},
                "title": "Simulation year", "titleFontSize": 26, "titleFontWeight": "normal", "titleColor": "black",
                "titleX": 570, "titleY": 52, "titleAngle": 0, "titleAlign": "center", "titleBaseline": "middle"}},
            "y": {"field": "v", "type": "quantitative", "stack": "zero", "scale": {"domain": [-76, 160.4], "nice": false, "zero": false},
              "axis": {"values": [-40, 0, 40, 80, 120], "format": "d", "labelPadding": 4, "tickSize": 7, "gridWidth": 1.4}},
            "color": {"field": "pool", "type": "nominal",
              "scale": {"domain": ["Slash", "In use", "Landfill", "Emitted with energy recapture", "Emitted", "Development emissions"],
                "range": ["#8B7355", "#A2CD5A", "#EEB422", "#00688B", "#EE7600", "#B2DFEE"]},
              "legend": null},
            "order": {"field": "o", "type": "quantitative"}
          }
        },
        {"transform": [{"aggregate": [{"op": "count", "as": "n"}], "groupby": ["p"]}],
         "mark": {"type": "rule", "strokeDash": [6, 4], "color": "black", "strokeWidth": 1.3},
         "encoding": {"y": {"datum": 0, "type": "quantitative", "scale": {"domain": [-76, 160.4], "nice": false, "zero": false},
           "axis": {"values": [-60, -20, 20, 60, 100], "labels": false, "ticks": false, "grid": true, "gridWidth": 0.7, "title": null}}}},
        {"transform": [{"aggregate": [{"op": "count", "as": "n"}], "groupby": ["p"]}],
         "mark": {"type": "rect", "fill": "#D9D9D9", "stroke": "#333333", "strokeWidth": 1.2},
         "encoding": {"x": {"datum": 2018, "type": "quantitative"}, "x2": {"datum": 2062}, "y": {"datum": 121.4, "type": "quantitative", "axis": null}, "y2": {"datum": 160.4}}},
        {"transform": [{"aggregate": [{"op": "count", "as": "n"}], "groupby": ["p"]}],
         "mark": {"type": "text", "fontSize": 25, "color": "#1A1A1A", "baseline": "middle", "align": "center"},
         "encoding": {"x": {"datum": 2040, "type": "quantitative"}, "y": {"datum": 140.9, "type": "quantitative", "axis": null}, "text": {"field": "p", "type": "nominal"}}}
      ]
    }
  ],
  "resolve": {"scale": {"color": "shared"}, "legend": {"color": "shared"}}
}
